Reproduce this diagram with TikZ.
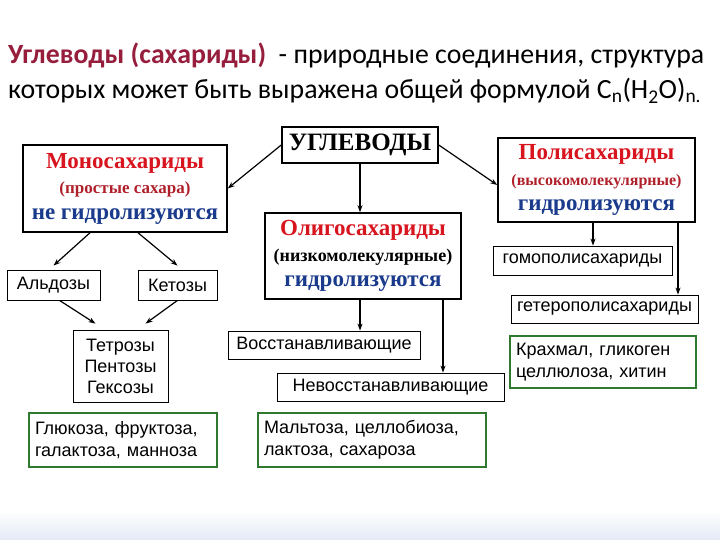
\documentclass[tikz,border=0pt]{standalone}
\usepackage{fontspec}
\setmainfont{Liberation Serif}
\newfontfamily\plainsans{Liberation Sans}
\newfontfamily\titlesans{Carlito}
\usepackage{xcolor}
\definecolor{titleRed} {HTML}{961E3C}
\definecolor{headRed}  {HTML}{D8141E}
\definecolor{noteRed}  {HTML}{B0202A}
\definecolor{hydroBlue}{HTML}{1A3A8C}
\definecolor{exGreen}  {HTML}{2F7A2F}
\definecolor{bandBlue} {HTML}{E4E9F5}
\usetikzlibrary{arrows.meta, positioning, calc}
\tikzset{
    headbox/.style={draw, line width=1.5pt, rectangle, align=center,
                    inner sep=0pt, font=\bfseries\fontsize{23}{25.5}\selectfont},
    subbox/.style={draw, line width=0.8pt, rectangle, align=center,
                   inner sep=0pt, font=\plainsans\fontsize{18}{21}\selectfont},
    exbox/.style={draw=exGreen, line width=1.6pt, rectangle, align=left,
                  inner sep=0pt, font=\plainsans\fontsize{18}{22}\selectfont},
    arr/.style={-{Stealth[length=7pt, width=5pt]}, line width=1.2pt},
}
\newcommand{\bigline}[1]{{\fontsize{23}{25.5}\selectfont #1}}
\newcommand{\smallline}[2]{{\fontsize{#1}{25.5}\selectfont #2}}

\begin{document}
\begin{tikzpicture}[x=1pt, y=-1pt]
\useasboundingbox (0,0) rectangle (720,540);
\shade[top color=white, bottom color=bandBlue] (0,510) rectangle (720,540);

% --- title ---
\node[anchor=base west, inner sep=0pt, font=\titlesans\fontsize{27.8}{32}\selectfont]
    (title1) at (8,64) {\textcolor{titleRed}{\bfseries Углеводы (сахариды)}\ \ - природные соединения, структура};
\node[anchor=base west, inner sep=0pt, font=\titlesans\fontsize{27.8}{32}\selectfont]
    (title2) at (8,99) {которых может быть выражена общей формулой C\textsubscript{n}(H\textsubscript{2}O)\textsubscript{n.}};

% --- top level ---
\node[headbox, minimum width=156pt, minimum height=36pt] (ugl) at (360,145)
    {\fontsize{25}{28}\selectfont УГЛЕВОДЫ};
\node[headbox, minimum width=204pt, minimum height=87pt] (mono) at (125,188.5)
    {\bigline{\textcolor{headRed}{Моносахариды}}\\
     \smallline{17}{\textcolor{noteRed}{(простые сахара)}}\\
     \bigline{\textcolor{hydroBlue}{не гидролизуются}}};
\node[headbox, minimum width=196pt, minimum height=86pt] (oligo) at (363,256)
    {\bigline{\textcolor{headRed}{Олигосахариды}}\\
     \smallline{18}{(низкомолекулярные)}\\
     \bigline{\textcolor{hydroBlue}{гидролизуются}}};
\node[headbox, minimum width=197pt, minimum height=84pt] (poli) at (596.5,180)
    {\bigline{\textcolor{headRed}{Полисахариды}}\\
     \smallline{16}{\textcolor{noteRed}{(высокомолекулярные)}}\\
     \bigline{\textcolor{hydroBlue}{гидролизуются}}};
\draw[arr] (ugl.west) -- (mono.east);
\draw[arr] (ugl.east) -- ([yshift=-5pt]poli.west);
\draw[arr] (ugl.south) -- (ugl.south |- oligo.north);

% --- monosaccharides ---
\node[subbox, minimum width=93pt, minimum height=30pt] (ald) at (53.5,285) {Альдозы};
\node[subbox, minimum width=79pt, minimum height=30pt] (ket) at (177.5,285) {Кетозы};
\node[subbox, minimum width=95pt, minimum height=72pt] (tet) at (120.5,366)
    {Тетрозы\\Пентозы\\Гексозы};
\node[exbox, minimum width=188pt, minimum height=54pt, text width=176pt] (glu) at (123,440)
    {Глюкоза, фруктоза,\\галактоза, манноза};
\draw[arr] ([xshift=-35pt]mono.south) -- ([yshift=4pt]ald.north);
\draw[arr] ([xshift=13pt]mono.south) -- ([yshift=4pt]ket.north);
\draw[arr] ([xshift=6pt]ald.south) -- ([xshift=-25pt, yshift=6pt]tet.north);
\draw[arr] (ket.south) -- ([xshift=25pt, yshift=6pt]tet.north);

% --- oligosaccharides ---
\node[subbox, minimum width=192pt, minimum height=28pt] (vos) at (324,345) {Восстанавливающие};
\node[subbox, minimum width=227pt, minimum height=28pt] (nev) at (390.5,387) {Невосстанавливающие};
\node[exbox, minimum width=228pt, minimum height=54pt, text width=216pt] (malt) at (372,440)
    {Мальтоза, целлобиоза,\\лактоза, сахароза};
\coordinate (ol-l) at ([xshift=-3pt]oligo.south);
\coordinate (ol-r) at ([xshift=80pt]oligo.south);
\draw[arr] (ol-l) -- (ol-l |- vos.north);
\draw[arr] (ol-r) -- (ol-r |- nev.north);

% --- polysaccharides ---
\node[subbox, minimum width=179pt, minimum height=29pt] (gomo) at (582.5,260.5) {гомополисахариды};
\node[subbox, minimum width=187pt, minimum height=28pt] (get) at (604.5,309) {гетерополисахариды};
\node[exbox, minimum width=186pt, minimum height=52pt, text width=174pt] (kra) at (603,362)
    {Крахмал, гликоген\\целлюлоза, хитин};
\coordinate (po-l) at ([xshift=-3.5pt]poli.south);
\coordinate (po-r) at ([xshift=81.5pt]poli.south);
\draw[arr] (po-l) -- (po-l |- gomo.north);
\draw[arr] (po-r) -- (po-r |- get.north);
\end{tikzpicture}
\end{document}
